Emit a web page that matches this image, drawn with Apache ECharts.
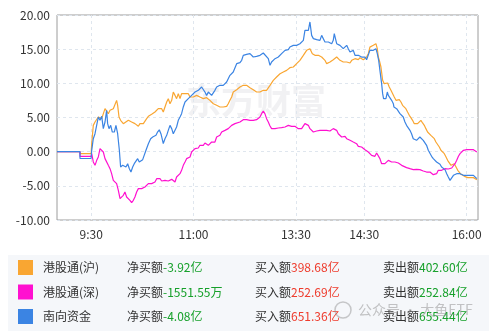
<!DOCTYPE html>
<html><head><meta charset="utf-8">
<script src="https://cdn.jsdelivr.net/npm/echarts@6/dist/echarts.min.js"></script>
<style>html,body{margin:0;padding:0;background:#fff}#c{width:489px;height:334px}</style>
</head><body><div id="c"></div>
<script>
// tick labels on the trading-minute axis (0 = 9:00, 370 = 16:10)
const tickMinutes = [30, 120, 210, 270, 360];
const tickLabels = ['9:30', '11:00', '13:30', '14:30', '16:00'];
const totalMinutes = 370;
const yTicks = [-10, -5, 0, 5, 10, 15, 20];

const seriesNames = ['港股通(沪)', '港股通(深)', '南向资金'];
const netBuy = ['-3.92亿', '-1551.55万', '-4.08亿'];
const buyAmt = ['398.68亿', '252.69亿', '651.36亿'];
const sellAmt = ['402.60亿', '252.84亿', '655.44亿'];

// [trading minute, 亿]
const shanghai = [[0,0],[20.2,0],[20.2,-0.3],[30,-0.3],[30.5,1.2],[31.9,3.85],[33.4,4.34],[34.9,4.59],[36.3,5.07],[37.8,4.83],[39.3,4.83],[42.2,6.29],[43.6,6.05],[45.1,5.56],[46.6,6.05],[48,5.8],[49.5,6.29],[51,6.54],[52.4,7.51],[53.3,6.78],[54.5,5.07],[55.9,4.59],[58.3,4.1],[59.7,4.34],[62.7,4.59],[64.1,4.83],[65.6,4.34],[67.1,4.59],[68.5,4.1],[70,4.34],[71.5,3.71],[72.9,4.1],[74.4,3.85],[75.9,4.1],[77.3,4.34],[78.8,4.83],[80.3,5.17],[83.2,5.46],[86.1,5.8],[87.6,6.05],[89,6.29],[90.5,6.54],[92,6.29],[93.4,5.8],[94.9,6.54],[96.4,7.27],[97.8,7.76],[99.3,7.02],[100.8,7.51],[102.2,8.73],[103.7,8.24],[105.1,7.76],[106.6,8.49],[108.1,7.76],[109.5,8.49],[111,8.73],[112.5,8.49],[115.4,8.49],[116.9,8],[118.3,7.76],[119.8,8],[122.7,8.24],[125.6,8],[127.1,8.1],[128.6,7.76],[130,8],[131.5,7.9],[134.4,7.51],[135.9,7.27],[137.4,7.02],[138.8,7.27],[140.3,6.78],[141.8,7.02],[143.2,6.54],[144.7,6.78],[146.1,6.54],[147.6,6.78],[149.1,6.63],[150.5,7.02],[152,7.51],[153.5,8],[154.9,8.73],[157.9,9.07],[160.8,9.46],[163.7,9.71],[166.6,9.71],[168.1,9.56],[169.6,9.37],[172.5,9.07],[175.4,8.73],[178.4,8.73],[181.3,8.98],[182.8,8.73],[184.2,8.98],[185.7,9.22],[187.2,9.71],[188.6,9.95],[190.1,10.44],[191.6,10.68],[193,10.93],[194.5,11.17],[196,11.41],[197.4,11.66],[198.9,11.66],[200.4,11.9],[201.8,11.9],[203.3,12.15],[204.7,12.29],[206.2,12.15],[207.7,12.39],[209.1,12.63],[210.6,12.88],[212.1,12.63],[213.5,13.37],[215,13.61],[216.5,14.1],[217.9,14.34],[219.4,14.83],[220.9,14.83],[222.3,15.07],[223.2,14.93],[224.4,14.34],[225.3,14.34],[226.7,14.1],[228.2,14.2],[229.7,14.1],[231.1,14.1],[232.6,13.85],[234.1,13.61],[235.5,13.37],[237,12.88],[238.5,12.63],[239.9,13.12],[241.4,13.12],[242.8,13.46],[244.3,13.61],[245.8,13.85],[247.2,13.85],[248.7,13.37],[250.2,13.61],[251.6,13.12],[253.1,12.98],[254.6,13.12],[256,12.88],[257.5,12.98],[259,13.37],[260.4,13.12],[261.9,13.61],[263.3,13.37],[264.8,13.46],[266.3,13.76],[267.7,13.85],[269.2,13.46],[270.7,13.61],[272.1,13.85],[273.6,14.34],[275,15.3],[278,15.56],[280.3,15.8],[281.5,15.07],[282.4,13.85],[283.3,13.37],[283.8,13.12],[284.7,12.39],[286.2,10.44],[287.6,9.95],[289.1,9.85],[290.6,10.05],[292,9.46],[293.5,8.98],[295,8.73],[296.4,8],[297.9,7.51],[299.4,7.27],[300.8,7.61],[302.3,7.27],[303.7,6.78],[305.2,6.54],[306.6,6.29],[308.1,5.8],[309.6,5.32],[311,4.98],[312.5,4.59],[314,4.1],[315.4,4.1],[316.9,4.1],[318.4,4.34],[319.8,4.59],[321.3,4.2],[322.8,3.85],[324.2,3.37],[325.7,2.88],[327.2,2.63],[328.6,2.39],[330.1,2.15],[331.6,1.9],[333,1.41],[334.5,1.17],[336,0.68],[337.4,0.2],[338.9,-0.05],[340.4,-0.29],[341.9,-0.78],[343.3,-1.27],[344.8,-1.51],[346.3,-2],[347.8,-2],[349.2,-1.76],[350.7,-2.24],[352.2,-2.73],[353.6,-2.98],[355.1,-3.32],[356.6,-3.46],[358.1,-3.61],[359.5,-3.71],[361,-3.8],[363.1,-3.8],[366,-3.8],[369,-4.1]];

const shenzhen = [[0,0],[20.2,0],[20.2,-0.7],[30,-0.7],[30.5,-0.29],[31.9,-1.51],[33.4,-2],[34.9,-1.27],[36.3,-0.78],[37.8,0.44],[39.3,0.68],[40.7,-0.05],[42.2,-1.02],[43.6,-0.78],[45.1,-2],[46.6,-2.49],[48,-3.22],[49.5,-4.2],[51,-4.44],[52.4,-4.68],[53.9,-5.66],[55.4,-6.88],[56.8,-7.12],[58.3,-6.39],[59.7,-5.9],[61.2,-6.63],[62.7,-6.88],[64.1,-7.12],[65.6,-7.46],[67.1,-7.12],[68.5,-6.63],[70,-5.9],[71.5,-5.41],[72.9,-5.51],[74.4,-5.41],[75.9,-5.51],[77.3,-5.17],[78.8,-5.17],[80.3,-4.68],[81.7,-4.93],[83.2,-4.68],[84.6,-4.93],[86.1,-4.44],[87.6,-3.95],[89,-4.2],[90.5,-3.95],[92,-4.29],[93.4,-4.29],[94.9,-4.2],[96.4,-3.95],[97.8,-4.29],[99.3,-4.44],[100.8,-4.05],[102.2,-4.1],[103.7,-4.44],[105.1,-3.71],[106.6,-3.56],[108.1,-3.22],[109.5,-2.73],[111,-2],[112.5,-1.51],[113.9,-1.02],[115.4,-0.78],[116.9,-0.78],[118.3,-0.05],[119.8,0.2],[121.3,0.44],[122.7,0.44],[124.2,0.54],[125.6,0.93],[127.1,1.17],[128.6,0.93],[130,1.27],[131.5,1.17],[133,0.93],[134.4,1.17],[135.9,1.41],[137.4,1.66],[138.8,1.41],[140.3,2.15],[141.8,2.39],[143.2,2.39],[144.7,2.88],[146.1,3.02],[147.6,3.12],[149.1,3.22],[150.5,3.37],[152,3.61],[153.5,3.85],[154.9,3.95],[156.4,4.1],[157.9,4.2],[160.8,4.34],[162.3,4.59],[163.7,4.68],[165.2,4.83],[166.6,4.68],[169.6,4.59],[172.5,4.59],[175.4,4.68],[176.9,4.83],[178.4,5.07],[179.8,5.56],[181.3,5.95],[182.7,5.56],[184.2,4.83],[185.7,4.34],[187.1,3.8],[188.6,3.37],[190.1,3.22],[191.6,3.37],[193,3.37],[194.5,3.46],[196,3.37],[197.4,3.51],[198.9,3.37],[200.4,3.61],[201.8,3.61],[203.3,3.85],[204.7,3.85],[206.2,3.71],[207.7,3.85],[209.1,3.71],[210.6,3.61],[212.1,3.37],[213.5,3.61],[215,3.37],[216.5,3.61],[217.9,4.1],[219.4,3.85],[220.9,3.85],[222.3,3.37],[223.8,3.37],[225.3,2.88],[226.7,2.63],[228.2,3.02],[229.7,2.88],[231.1,3.12],[232.6,3.02],[234.1,3.12],[235.5,2.88],[237,3.12],[238.5,3.22],[239.9,3.02],[241.4,3.12],[242.8,3.37],[244.3,3.61],[245.8,3.12],[247.2,2.63],[248.7,2.39],[250.2,2.15],[251.6,2.15],[253.1,2.24],[254.6,1.9],[256,1.9],[257.5,1.66],[259,1.41],[260.4,1.41],[261.9,1.27],[263.3,1.17],[264.8,0.78],[266.3,0.59],[267.7,0.68],[269.2,0.68],[270.7,0.29],[272.1,0.2],[273.6,-0.05],[275,-0.29],[276.5,-0.54],[278,-0.63],[279.4,-0.68],[280.9,-0.2],[282.4,-0.29],[283.8,-1.02],[285.3,-1.76],[286.7,-2],[288.2,-1.76],[289.7,-1.51],[291.2,-1.27],[292.6,-1.51],[294.1,-1.51],[295.6,-1.37],[297,-1.51],[298.5,-1.51],[300,-1.66],[301.4,-1.76],[302.9,-2],[304.3,-2.24],[307.2,-2.34],[310.2,-2.49],[313.1,-2.63],[316,-2.59],[317.5,-2.73],[318.9,-2.63],[320.4,-2.63],[321.9,-2.83],[323.4,-3.02],[324.8,-2.98],[326.3,-3.07],[327.8,-2.98],[329.2,-3.22],[330.7,-3.37],[332.2,-3.32],[333.6,-3.22],[335.1,-2.73],[336.6,-2.54],[338,-2.73],[339.5,-2.59],[341,-2.49],[342.5,-2.63],[343.9,-2.54],[345.4,-2.54],[346.9,-2.39],[348.4,-2.15],[349.8,-1.76],[351.3,-1.27],[352.8,-0.68],[354.2,-0.29],[355.7,-0.05],[357.2,0.2],[358.7,0.29],[360.1,0.29],[363.1,0.29],[366,0.29],[367.5,0.2],[369,-0.05]];

const southbound = [[0,0],[20.2,0],[20.2,-1],[30,-1],[30.5,0.2],[31.9,1.9],[33.4,2.63],[34.9,2.88],[36.3,5.07],[37.8,4.59],[39.3,5.17],[40.7,3.37],[42.2,4.34],[43.6,6.05],[44.5,4.1],[45.7,3.37],[47.2,3.85],[48.6,2.88],[50.4,2.88],[51.8,3.85],[53.3,2.63],[54.8,0.2],[55.9,-2.24],[57.7,-2],[59.2,-1.76],[60.6,-2.24],[62.1,-1.76],[63.6,-2.49],[65,-2.98],[66.5,-2.24],[67.9,-1.76],[69.4,-1.51],[70.9,-1.02],[72.3,-1.51],[73.8,-1.27],[75.3,-1.17],[76.7,-1.02],[78.2,0.2],[80.3,1.17],[82.3,1.9],[84.1,2.15],[85.5,1.9],[87,2.4],[88.5,2.9],[89.9,3.2],[91.4,2.6],[92.8,1.6],[93.4,1.17],[94.9,1.9],[96.4,2.39],[97.8,3.12],[99.3,3.85],[100.8,3.37],[102.2,2.63],[103.7,2.39],[105.1,3.61],[106.6,4.59],[108.1,5.07],[109.5,5.56],[111,6.54],[112.5,7.27],[113.9,7.51],[115.4,7.76],[116.9,8],[118.3,8.24],[119.8,8.49],[121.3,8.73],[122.7,8.98],[124.2,8.98],[125.6,9.22],[127.1,9.46],[128.6,9.46],[130,8.73],[131.5,8.24],[133,8.73],[134.4,8.49],[135.9,8.24],[137.4,8.49],[138.8,8.98],[140.3,9.46],[141.8,9.22],[143.2,9.71],[144.7,9.95],[146.1,9.71],[149.1,10.2],[150.5,10.68],[152,11.17],[153.5,11.41],[154.9,11.66],[156.4,11.9],[157.9,12.88],[159.3,13.12],[160.8,13.02],[162.3,13.37],[163.7,14.1],[165.2,14.34],[166.6,14.24],[169.6,14.34],[171,14.1],[172.5,13.85],[175.4,13.95],[178.4,14.1],[179.8,14.1],[181.3,14.44],[182.8,14.34],[185.7,13.61],[187.2,12.63],[188.6,13.12],[190.1,13.37],[191.6,13.61],[193,13.37],[194.5,13.85],[196,14.1],[197.4,14.34],[198.9,14.59],[200.4,14.83],[201.8,15.07],[203.3,14.93],[204.7,15.32],[206.2,15.22],[207.7,15.56],[209.1,15.32],[210.6,15.56],[212.1,15.8],[213.5,15.8],[215,15.56],[216.5,16.29],[217.9,17.76],[219.4,18],[220.9,17.76],[222.3,18.98],[223.2,18.73],[223.8,17.02],[225.3,16.54],[226.7,16.29],[228.2,16.39],[229.7,16.39],[231.1,16.29],[232.6,17.02],[234.1,16.78],[235.5,16.05],[237,15.8],[238.5,16.05],[239.9,15.8],[241.4,15.8],[242.8,16.29],[243.7,17.27],[244.9,17.02],[245.8,15.8],[247.2,16.05],[248.7,15.56],[250.2,15.32],[251.6,15.07],[253.1,15.07],[254.6,15.56],[256,15.07],[257.5,14.59],[259,14.34],[260.4,14.83],[261.9,14.1],[263.3,13.85],[264.8,14.1],[266.3,14.34],[267.7,13.85],[269.2,13.61],[270.7,13.85],[272.1,13.46],[273.6,13.61],[275,14.83],[278,14.83],[280.3,15.07],[281.5,14.34],[282.7,13.37],[283.8,11.9],[285.3,9.95],[286.2,8.49],[287,7.76],[288.2,7.9],[289.1,7.76],[290.3,8.73],[291.2,8.24],[292.6,8],[294.1,7.51],[295.6,7.02],[296.1,6.54],[297.3,6.78],[298.5,6.29],[300,6.05],[301.4,5.56],[302.9,5.8],[304.3,5.07],[305.8,4.34],[307.2,3.85],[308.7,3.61],[310.2,3.12],[311.6,2.63],[313.1,1.9],[314.6,1.66],[316,1.66],[317.5,1.56],[318.9,2.15],[320.4,1.9],[321.9,1.66],[323.4,1.41],[324.8,0.93],[326.3,0.2],[327.8,-0.05],[329.2,-0.68],[330.7,-1.02],[332.2,-1.17],[333.6,-1.51],[335.1,-1.66],[336.6,-1.85],[338,-2.24],[339.5,-2.49],[341,-2.63],[342.5,-3.22],[343.9,-3.71],[345.4,-4.2],[346.9,-3.95],[348.4,-3.46],[349.8,-3.71],[351.3,-3.22],[352.8,-3.12],[354.2,-3.22],[355.7,-3.32],[357.2,-3.46],[360.1,-3.46],[363.1,-3.46],[366,-3.46],[367.5,-3.61],[369,-3.95]];

const colors = ['#f9a632', '#ff10d0', '#3b84e3'];
const FONT = '"Noto Sans CJK SC", "Noto Sans", sans-serif';

const categories = [];
for (let i = 0; i <= totalMinutes; i++) {
  const k = tickMinutes.indexOf(i);
  categories.push(k >= 0 ? tickLabels[k] : '');
}
const isTick = (i) => tickMinutes.indexOf(i) >= 0;

const chart = echarts.init(document.getElementById('c'), null, {renderer: 'canvas'});

// legend / summary panel
const rowY = [267.5, 292, 316.5];
const legendEls = [{
  type: 'rect', shape: {x: 8, y: 255, width: 481, height: 76},
  style: {fill: '#f5f7fa'}, z: 1
}];
seriesNames.forEach((name, i) => {
  const y = rowY[i];
  legendEls.push({type: 'rect', shape: {x: 18, y: y - 7.5, width: 15, height: 15}, style: {fill: colors[i]}, z: 2});
  legendEls.push({type: 'text', x: 43, y: y, style: {text: name, font: '12px ' + FONT, fill: '#333', verticalAlign: 'middle'}, z: 2});
  legendEls.push({type: 'text', x: 127, y: y, style: {
    text: '{k|净买额}{g|' + netBuy[i] + '}', verticalAlign: 'middle',
    rich: {k: {fontSize: 12, fontFamily: FONT, fill: '#333'}, g: {fontSize: 12, fontFamily: FONT, fill: '#16a02a'}}
  }, z: 2});
  legendEls.push({type: 'text', x: 255, y: y, style: {
    text: '{k|买入额}{r|' + buyAmt[i] + '}', verticalAlign: 'middle',
    rich: {k: {fontSize: 12, fontFamily: FONT, fill: '#333'}, r: {fontSize: 12, fontFamily: FONT, fill: '#ee3b2c'}}
  }, z: 2});
  legendEls.push({type: 'text', x: 383, y: y, style: {
    text: '{k|卖出额}{g|' + sellAmt[i] + '}', verticalAlign: 'middle',
    rich: {k: {fontSize: 12, fontFamily: FONT, fill: '#333'}, g: {fontSize: 12, fontFamily: FONT, fill: '#16a02a'}}
  }, z: 2});
});
// watermarks
legendEls.push({type: 'text', x: 186, y: 101, style: {text: '东方财富', font: 'bold 35px ' + FONT, fill: 'rgba(215,215,222,0.35)', verticalAlign: 'middle'}, z: 0, silent: true});
legendEls.push({type: 'circle', shape: {cx: 343, cy: 310, r: 8}, style: {fill: 'none', stroke: 'rgba(150,150,150,0.5)', lineWidth: 1.5}, z: 3});
legendEls.push({type: 'text', x: 358, y: 310, style: {text: '公众号 · 大鱼ETF', font: '14px ' + FONT, fill: 'rgba(150,150,150,0.55)', verticalAlign: 'middle'}, z: 3});

chart.setOption({
  animation: false,
  backgroundColor: '#fff',
  textStyle: {fontFamily: FONT},
  grid: {left: 57, top: 15, right: 11, bottom: 114, show: true, borderColor: '#9c9c9c', borderWidth: 1, backgroundColor: 'transparent'},
  xAxis: [{
    type: 'category', data: categories, boundaryGap: false,
    axisLine: {show: false}, axisTick: {show: false},
    axisLabel: {interval: (i) => isTick(i), color: '#333', fontSize: 12, margin: 8, fontFamily: FONT},
    splitLine: {show: true, interval: (i) => isTick(i), lineStyle: {color: '#dfe6ee', type: [3, 3], width: 1}}
  }, {
    type: 'value', min: 0, max: totalMinutes, show: false
  }],
  yAxis: {
    type: 'value', min: yTicks[0], max: yTicks[yTicks.length - 1], interval: 5,
    axisLine: {show: false}, axisTick: {show: false},
    axisLabel: {formatter: (v) => v.toFixed(2), color: '#333', fontSize: 12, margin: 7, fontFamily: FONT},
    splitLine: {show: true, lineStyle: {color: '#dfe6ee', type: [3, 3], width: 1}}
  },
  series: [
    {name: seriesNames[0], type: 'line', xAxisIndex: 1, data: shanghai, showSymbol: false, lineStyle: {color: colors[0], width: 1.2}, z: 3},
    {name: seriesNames[1], type: 'line', xAxisIndex: 1, data: shenzhen, showSymbol: false, lineStyle: {color: colors[1], width: 1.2}, z: 3},
    {name: seriesNames[2], type: 'line', xAxisIndex: 1, data: southbound, showSymbol: false, lineStyle: {color: colors[2], width: 1.2}, z: 3}
  ],
  graphic: {elements: legendEls}
});
</script></body></html>
